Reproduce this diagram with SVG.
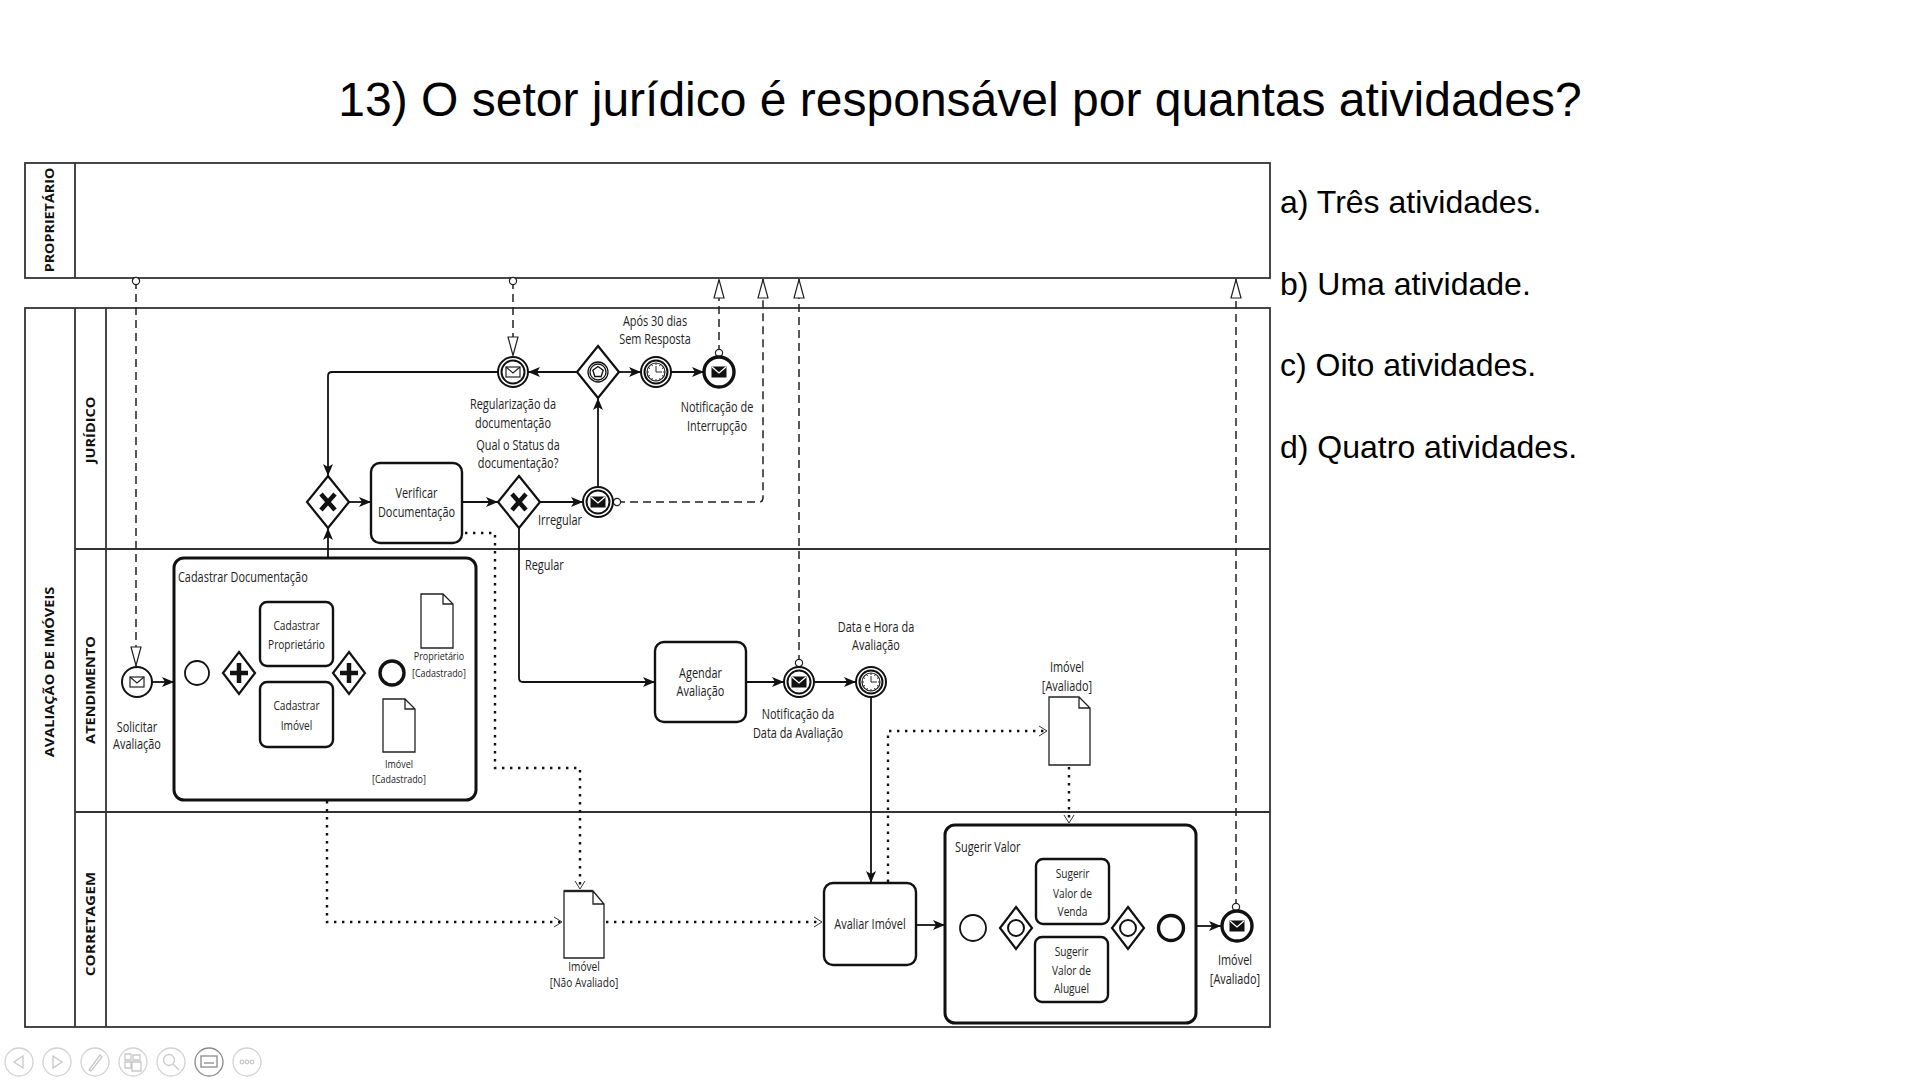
<svg xmlns="http://www.w3.org/2000/svg" xmlns:xlink="http://www.w3.org/1999/xlink" width="1920" height="1080" viewBox="0 0 1920 1080">
<style>
.pool{fill:none;stroke:#333;stroke-width:1.8}
.ln{stroke:#333;stroke-width:1.8;fill:none}
.task{fill:#fff;stroke:#111;stroke-width:2.4}
.sub{fill:#fff;stroke:#111;stroke-width:3}
.gw{fill:#fff;stroke:#111;stroke-width:2.2}
.ev{fill:#fff;stroke:#111;stroke-width:2}
.evs{fill:#fff;stroke:#111;stroke-width:1.8}
.eve{fill:#fff;stroke:#111;stroke-width:3.4}
.doc{fill:#fff;stroke:#222;stroke-width:1.3}
.seq{fill:none;stroke:#111;stroke-width:1.8;marker-end:url(#seqA)}
.msg{fill:none;stroke:#222;stroke-width:1.5;stroke-dasharray:8 5;marker-start:url(#msgS);marker-end:url(#msgE)}
.asc{fill:none;stroke:#111;stroke-width:2.4;stroke-dasharray:2.4 5.6;marker-end:url(#ascA)}
.title{font-family:"Liberation Sans",Arial,sans-serif;font-size:48px;fill:#000}
.opt{font-family:"Liberation Sans",Arial,sans-serif;font-size:32px;fill:#000}
.t{font-family:"Open Sans","Noto Sans",sans-serif;font-size:14px;fill:#222;text-anchor:middle;transform-box:fill-box;transform-origin:center;transform:scaleX(0.78)}
.tl{font-family:"Open Sans","Noto Sans",sans-serif;font-size:14px;fill:#222;text-anchor:start;transform-box:fill-box;transform-origin:left center;transform:scaleX(0.78)}
.s13{font-size:13px}
.s11{font-size:11.5px}
.lane{font-family:"Open Sans","Noto Sans",sans-serif;font-weight:bold;font-size:13px;fill:#111;text-anchor:middle}
.tb{fill:#fff;stroke:#d2d2d2;stroke-width:1.3}
.tbi{fill:none;stroke:#c8c8c8;stroke-width:1.3}
</style>
<defs>
<marker id="seqA" viewBox="0 0 12 10" markerWidth="12" markerHeight="10" refX="12" refY="5" orient="auto" markerUnits="userSpaceOnUse">
<path d="M0,0 L12,5 L0,10 L3,5 Z" fill="#111"/>
</marker>
<marker id="msgE" viewBox="0 0 20 12" markerWidth="20" markerHeight="12" refX="20" refY="6" orient="auto" markerUnits="userSpaceOnUse">
<path d="M1,1 L19.5,6 L1,11 Z" fill="#fff" stroke="#222" stroke-width="1.2" stroke-dasharray="none"/>
</marker>
<marker id="msgS" viewBox="0 0 10 10" markerWidth="10" markerHeight="10" refX="5" refY="5" orient="auto" markerUnits="userSpaceOnUse">
<circle cx="5" cy="5" r="3.6" fill="#fff" stroke="#222" stroke-width="1.2" stroke-dasharray="none"/>
</marker>
<marker id="ascA" viewBox="0 0 10 12" markerWidth="10" markerHeight="12" refX="9" refY="6" orient="auto" markerUnits="userSpaceOnUse">
<path d="M1,1 L9,6 L1,11" fill="none" stroke="#333" stroke-width="1" stroke-dasharray="none"/>
</marker>
<g id="envO"><rect x="-7" y="-5" width="14" height="10" fill="#fff" stroke="#222" stroke-width="1.2"/><path d="M-7,-5 L0,1 L7,-5" fill="none" stroke="#222" stroke-width="1.2"/></g>
<g id="envF"><rect x="-7.5" y="-5.5" width="15" height="11" fill="#111"/><path d="M-7,-5 L0,1 L7,-5" fill="none" stroke="#fff" stroke-width="1.3"/></g>
<g id="clock"><circle r="9" fill="#fff" stroke="#222" stroke-width="1.2"/>
<path d="M0,-7V-9M3.5,-6.06L4.5,-7.79M6.06,-3.5L7.79,-4.5M7,0H9M6.06,3.5L7.79,4.5M3.5,6.06L4.5,7.79M0,7V9M-3.5,6.06L-4.5,7.79M-6.06,3.5L-7.79,4.5M-7,0H-9M-6.06,-3.5L-7.79,-4.5M-3.5,-6.06L-4.5,-7.79M0,0V-6M0,0H6" stroke="#222" stroke-width="1" fill="none"/></g>
<path id="xmark" d="M-7,-8 L7,8 M7,-8 L-7,8" stroke="#111" stroke-width="4.5" fill="none"/>
<path id="pmark" d="M0,-10 V10 M-9,0 H9" stroke="#111" stroke-width="4.5" fill="none"/>
</defs>

<rect width="1920" height="1080" fill="#fff"/>

<text class="title" x="960" y="116" text-anchor="middle">13) O setor jurídico é responsável por quantas atividades?</text>

<g id="options">
<text class="opt" x="1280" y="213">a) Três atividades.</text>
<text class="opt" x="1280" y="295">b) Uma atividade.</text>
<text class="opt" x="1280" y="376">c) Oito atividades.</text>
<text class="opt" x="1280" y="458">d) Quatro atividades.</text>
</g>

<g id="pool-proprietario">
<rect class="pool" x="25" y="163" width="1245" height="115"/>
<line class="ln" x1="75" y1="163" x2="75" y2="278"/>
<text class="lane" transform="translate(54,220) rotate(-90) scale(1.1,1)">PROPRIETÁRIO</text>
</g>

<g id="pool-avaliacao">
<rect class="pool" x="25" y="308" width="1245" height="719"/>
<line class="ln" x1="75" y1="308" x2="75" y2="1027"/>
<line class="ln" x1="106" y1="308" x2="106" y2="1027"/>
<line class="ln" x1="75" y1="549" x2="1270" y2="549"/>
<line class="ln" x1="75" y1="812" x2="1270" y2="812"/>
<text class="lane" transform="translate(54,672) rotate(-90) scale(1.12,1)">AVALIAÇÃO DE IMÓVEIS</text>
<text class="lane" transform="translate(95,430) rotate(-90) scale(1.12,1)">JURÍDICO</text>
<text class="lane" transform="translate(95,690) rotate(-90) scale(1.12,1)">ATENDIMENTO</text>
<text class="lane" transform="translate(95,924) rotate(-90) scale(1.18,1)">CORRETAGEM</text>
</g>

<g id="connectors">
<!-- message flows -->
<path class="msg" d="M136,281 V666"/>
<path class="msg" d="M513,281 V356"/>
<path class="msg" d="M719,353 V279"/>
<path class="msg" d="M617,502 H759 Q763,502 763,498 V279"/>
<path class="msg" d="M799,663 V279"/>
<path class="msg" d="M1236,907 V279"/>
<!-- sequence flows -->
<path class="seq" d="M152,682 H174"/>
<path class="seq" d="M328,558 V528"/>
<path class="seq" d="M349,502 H371"/>
<path class="seq" d="M462,502 H498"/>
<path class="seq" d="M540,502 H583"/>
<path class="seq" d="M598,487 V398"/>
<path class="seq" d="M577,372 H528"/>
<path class="seq" d="M619,372 H641"/>
<path class="seq" d="M671,372 H704"/>
<path class="seq" d="M498,372 H332 Q328,372 328,376 V476"/>
<path class="seq" d="M519,528 V678 Q519,682 523,682 H655"/>
<path class="seq" d="M746,682 H784"/>
<path class="seq" d="M814,682 H856"/>
<path class="seq" d="M871,697 V883"/>
<path class="seq" d="M916,925 H945"/>
<path class="seq" d="M1196,926 H1221"/>
<!-- inside Cadastrar Documentação -->
<path class="seq" d="M209,673 H223"/>
<path class="seq" d="M239,652 V638 Q239,634 243,634 H260"/>
<path class="seq" d="M239,694 V710 Q239,714 243,714 H260"/>
<path class="seq" d="M333,634 H345 Q349,634 349,638 V652"/>
<path class="seq" d="M333,714 H345 Q349,714 349,710 V694"/>
<path class="seq" d="M365,673 H380"/>
<!-- inside Sugerir Valor -->
<path class="seq" d="M986,928 H1000"/>
<path class="seq" d="M1016,907 V896 Q1016,892 1020,892 H1036"/>
<path class="seq" d="M1016,949 V966 Q1016,970 1020,970 H1035"/>
<line x1="1011" y1="963" x2="1021" y2="953" stroke="#111" stroke-width="1.2"/>
<path class="seq" d="M1109,892 H1124 Q1128,892 1128,896 V907"/>
<path class="seq" d="M1108,970 H1124 Q1128,970 1128,966 V949"/>
<path class="seq" d="M1144,928 H1158"/>
<!-- associations -->
<path class="asc" d="M465,533 H495 V768 H580 V889"/>
<path class="asc" d="M327,801 V922 H562"/>
<path class="asc" d="M606,922 H822"/>
<path class="asc" d="M888,882 V731 H1047"/>
<path class="asc" d="M1069,767 V823"/>
<path class="asc" d="M335,620 H419"/>
<path class="asc" d="M335,727 H381"/>
</g>

<g id="gw-xor-1">
<polygon class="gw" points="328,476 349,502 328,528 307,502"/>
<use href="#xmark" x="328" y="502"/>
</g>
<g id="task-verificar">
<rect class="task" x="371" y="463" width="91" height="80" rx="9"/>
<text class="t" x="416.5" y="498">Verificar</text>
<text class="t" x="416.5" y="517">Documentação</text>
</g>
<g id="gw-xor-2">
<polygon class="gw" points="519,476 540,502 519,528 498,502"/>
<use href="#xmark" x="519" y="502"/>
<text class="t" x="518" y="450">Qual o Status da</text>
<text class="t" x="518" y="468">documentação?</text>
<text class="tl" x="538" y="525">Irregular</text>
<text class="tl" x="525" y="570">Regular</text>
</g>
<g id="ev-irregular">
<circle class="ev" cx="598" cy="502" r="15"/>
<circle class="ev" cx="598" cy="502" r="11.5"/>
<use href="#envF" x="598" y="502"/>
</g>
<g id="gw-event">
<polygon class="gw" points="598,346 619,372 598,398 577,372"/>
<circle cx="598" cy="372" r="10" fill="none" stroke="#111" stroke-width="1.3"/>
<circle cx="598" cy="372" r="8" fill="none" stroke="#111" stroke-width="1.3"/>
<polygon points="598,366.5 603.2,370.3 601.2,376.5 594.8,376.5 592.8,370.3" fill="none" stroke="#111" stroke-width="1.3"/>
</g>
<g id="ev-regularizacao">
<circle class="ev" cx="513" cy="372" r="15"/>
<circle class="ev" cx="513" cy="372" r="11.5"/>
<use href="#envO" x="513" y="372"/>
<text class="t" x="513" y="409">Regularização da</text>
<text class="t" x="513" y="428">documentação</text>
</g>
<g id="ev-timer-30">
<circle class="ev" cx="656" cy="372" r="15"/>
<circle class="ev" cx="656" cy="372" r="11.5"/>
<use href="#clock" x="656" y="372"/>
<text class="t" x="655" y="326">Após 30 dias</text>
<text class="t" x="655" y="344">Sem Resposta</text>
</g>
<g id="ev-notificacao-interrupcao">
<circle class="eve" cx="719" cy="372" r="15"/>
<use href="#envF" x="719" y="372"/>
<text class="t" x="717" y="412">Notificação de</text>
<text class="t" x="717" y="431">Interrupção</text>
</g>

<g id="ev-solicitar">
<circle class="ev" cx="137" cy="682" r="15"/>
<use href="#envO" x="137" y="682"/>
<text class="t" x="137" y="732">Solicitar</text>
<text class="t" x="137" y="749">Avaliação</text>
</g>
<g id="sub-cadastrar">
<rect class="sub" x="174" y="558" width="302" height="242" rx="10"/>
<text class="tl" x="178" y="582">Cadastrar Documentação</text>
<circle class="evs" cx="197" cy="673" r="12"/>
<polygon class="gw" points="239,652 255,673 239,694 223,673"/>
<use href="#pmark" x="239" y="673"/>
<rect class="task" x="260" y="602" width="73" height="64" rx="7"/>
<text class="t s13" x="296.5" y="630">Cadastrar</text>
<text class="t s13" x="296.5" y="649">Proprietário</text>
<rect class="task" x="260" y="682" width="73" height="65" rx="7"/>
<text class="t s13" x="296.5" y="710">Cadastrar</text>
<text class="t s13" x="296.5" y="730">Imóvel</text>
<polygon class="gw" points="349,652 365,673 349,694 333,673"/>
<use href="#pmark" x="349" y="673"/>
<circle class="eve" cx="392" cy="673" r="12"/>
</g>
<g id="doc-proprietario">
<path class="doc" d="M421,594 H443 L453,604 V648 H421 Z M443,594 V604 H453"/>
<text class="t s11" x="439" y="660">Proprietário</text>
<text class="t s11" x="439" y="677">[Cadastrado]</text>
</g>
<g id="doc-imovel-cadastrado">
<path class="doc" d="M383,699 H405 L415,709 V752 H383 Z M405,699 V709 H415"/>
<text class="t s11" x="399" y="768">Imóvel</text>
<text class="t s11" x="399" y="783">[Cadastrado]</text>
</g>
<g id="task-agendar">
<rect class="task" x="655" y="642" width="91" height="80" rx="9"/>
<text class="t" x="700.5" y="678">Agendar</text>
<text class="t" x="700.5" y="696">Avaliação</text>
</g>
<g id="ev-notificacao-data">
<circle class="ev" cx="799" cy="682" r="15"/>
<circle class="ev" cx="799" cy="682" r="11.5"/>
<use href="#envF" x="799" y="682"/>
<text class="t" x="798" y="719">Notificação da</text>
<text class="t" x="798" y="738">Data da Avaliação</text>
</g>
<g id="ev-timer-data">
<circle class="ev" cx="871" cy="682" r="15"/>
<circle class="ev" cx="871" cy="682" r="11.5"/>
<use href="#clock" x="871" y="682"/>
<text class="t" x="876" y="632">Data e Hora da</text>
<text class="t" x="876" y="650">Avaliação</text>
</g>
<g id="doc-imovel-avaliado">
<path class="doc" d="M1049,697 H1079 L1090,708 V765 H1049 Z M1079,697 V708 H1090"/>
<text class="t" x="1067" y="672">Imóvel</text>
<text class="t" x="1067" y="691">[Avaliado]</text>
</g>

<g id="doc-imovel-nao-avaliado">
<path class="doc" d="M564,891 H593 L604,904 V958 H564 Z M593,891 V904 H604"/>
<line x1="564" y1="891" x2="593" y2="891" stroke="#222" stroke-width="2.4"/>
<text class="t s13" x="584" y="971">Imóvel</text>
<text class="t s13" x="584" y="987">[Não Avaliado]</text>
</g>
<g id="task-avaliar">
<rect class="task" x="824" y="883" width="92" height="82" rx="9"/>
<text class="t" x="870" y="929">Avaliar Imóvel</text>
</g>
<g id="sub-sugerir">
<rect class="sub" x="945" y="825" width="251" height="198" rx="10"/>
<text class="tl" x="955" y="852">Sugerir Valor</text>
<circle class="evs" cx="973" cy="928" r="13"/>
<polygon class="gw" points="1016,907 1032,928 1016,949 1000,928"/>
<circle cx="1016" cy="928" r="8" fill="none" stroke="#111" stroke-width="2"/>
<rect class="task" x="1036" y="859" width="73" height="65" rx="7"/>
<text class="t s13" x="1072.5" y="878">Sugerir</text>
<text class="t s13" x="1072.5" y="898">Valor de</text>
<text class="t s13" x="1072.5" y="916">Venda</text>
<rect class="task" x="1035" y="937" width="73" height="65" rx="7"/>
<text class="t s13" x="1071.5" y="956">Sugerir</text>
<text class="t s13" x="1071.5" y="975">Valor de</text>
<text class="t s13" x="1071.5" y="993">Aluguel</text>
<polygon class="gw" points="1128,907 1144,928 1128,949 1112,928"/>
<circle cx="1128" cy="928" r="8" fill="none" stroke="#111" stroke-width="2"/>
<circle class="eve" cx="1171" cy="928" r="12.5"/>
</g>
<g id="ev-imovel-avaliado">
<circle class="eve" cx="1237" cy="926" r="15"/>
<use href="#envF" x="1237" y="926"/>
<text class="t" x="1235" y="965">Imóvel</text>
<text class="t" x="1235" y="984">[Avaliado]</text>
</g>

<g id="toolbar">
<circle class="tb" cx="19" cy="1062" r="14"/>
<path class="tbi" d="M23,1056 L14,1062 L23,1068 Z"/>
<circle class="tb" cx="57" cy="1062" r="14"/>
<path class="tbi" d="M53,1056 L62,1062 L53,1068 Z"/>
<circle class="tb" cx="95" cy="1062" r="14"/>
<path class="tbi" d="M89,1070 L100,1055 L102,1057 L91,1071 Z"/>
<circle class="tb" cx="133" cy="1062" r="14"/>
<path class="tbi" d="M125,1054 h6 v6 h-6 z M125,1062 h6 v6 h-6 z M133,1055 h7 v5 h-7 z M132,1062 h9 v9 h-9 z"/>
<circle class="tb" cx="171" cy="1062" r="14"/>
<circle class="tbi" cx="169" cy="1060" r="5.5"/>
<path class="tbi" d="M173,1064 L179,1070"/>
<circle cx="209" cy="1062" r="14" fill="#fff" stroke="#8a8a8a" stroke-width="1.3"/>
<rect x="201" y="1056" width="16" height="11" fill="none" stroke="#8a8a8a" stroke-width="1.3"/>
<path d="M204,1063 h10" stroke="#8a8a8a" stroke-width="1.3"/>
<circle class="tb" cx="247" cy="1062" r="14"/>
<circle class="tbi" cx="242" cy="1062" r="1.8"/>
<circle class="tbi" cx="247" cy="1062" r="1.8"/>
<circle class="tbi" cx="252" cy="1062" r="1.8"/>
</g>
</svg>
